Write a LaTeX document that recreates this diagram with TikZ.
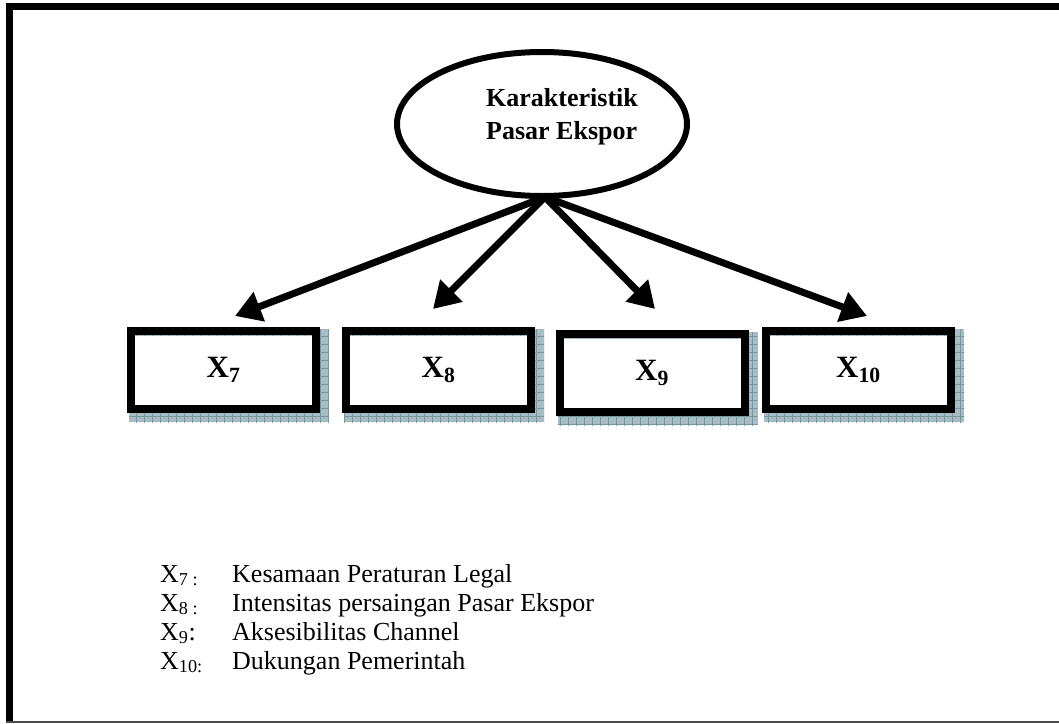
\documentclass[tikz,border=0pt]{standalone}
\usepackage{fontspec}
\setmainfont{Liberation Serif}
\usetikzlibrary{arrows.meta,backgrounds,shapes.geometric,calc}
\definecolor{shadeface}{RGB}{168,188,196}
\definecolor{shadeline}{RGB}{120,150,160}
\begin{document}
\begin{tikzpicture}[x=1pt,y=-1pt,
  latent/.style={ellipse, draw, line width=6pt, minimum width=290pt,
    minimum height=144pt, inner sep=0pt},
  heading/.style={align=left, inner sep=0pt,
    font=\fontsize{26}{33}\selectfont\bfseries},
  xbox/.style={draw, line width=8pt, minimum width=185pt,
    minimum height=78pt, inner sep=0pt,
    font=\fontsize{31}{32}\selectfont\bfseries},
  link/.style={line width=7pt, -{Triangle[length=26pt,width=30pt]}},
  legend/.style={anchor=base west, inner sep=0pt,
    font=\fontsize{26}{30}\selectfont},
  shadecol/.style={fill=shadeface},
  shadegrid/.style={draw=shadeline, line width=0.6pt},
]
\useasboundingbox (0,0) rectangle (1059,723);

% outer frame
\draw[line width=7pt] (9.5,723) -- (9.5,6.5) -- (1065,6.5);
\draw[line width=1.5pt, black!70] (6,722) -- (1065,722);

% construct
\node[latent] (ell) at (542,124) {};
\node[heading] (lbl) at (562,117) {Karakteristik\\Pasar Ekspor};

% indicator boxes
\node[xbox] (b7)  at (223.5,370) {\raisebox{-3pt}{X$_{\mathbf{7}}$}};
\node[xbox] (b8)  at (438.5,370) {\raisebox{-1pt}{X$_{\mathbf{8}}$}};
\node[xbox] (b9)  at (652,373)   {\raisebox{-3pt}{X$_{\mathbf{9}}$}};
\node[xbox] (b10) at (858.5,370) {\raisebox{-1pt}{X$_{\mathbf{10}}$}};

% shaded drop shadows behind each box
\newcommand\boxshade[1]{%
  \fill[shadecol] ($(#1.north west)+(2,2)$) rectangle ($(#1.south east)+(9,9)$);
  \begin{scope}
    \clip ($(#1.north west)+(2,2)$) rectangle ($(#1.south east)+(9,9)$);
    \draw[shadegrid, step=8pt] ($(#1.north west)+(0,0)$) grid ($(#1.south east)+(12,12)$);
  \end{scope}
  \fill[white] ($(#1.north west)+(7,9)$) rectangle ($(#1.south east)+(-4,-4)$);
}
\begin{scope}[on background layer]
  \boxshade{b7}
  \boxshade{b8}
  \boxshade{b9}
  \boxshade{b10}
\end{scope}

% arrows from the construct
\coordinate (hub) at (545,197);
\coordinate (t7)  at (235,316);
\coordinate (t8)  at (433,309);
\coordinate (t9)  at (655,309);
\coordinate (t10) at (867,316);
\draw[link] (hub) -- (t7);
\draw[link] (hub) -- (t8);
\draw[link] (hub) -- (t9);
\draw[link] (hub) -- (t10);

% legend
\node[legend] (k7)  at (160,582) {X\textsubscript{7 :}};
\node[legend] (k8)  at (160,611) {X\textsubscript{8 :}};
\node[legend] (k9)  at (160,640) {X\textsubscript{9}:};
\node[legend] (k10) at (160,669) {X\textsubscript{10:}};
\node[legend] (d7)  at (232,582) {Kesamaan Peraturan Legal};
\node[legend] (d8)  at (232,611) {Intensitas persaingan Pasar Ekspor};
\node[legend] (d9)  at (232,640) {Aksesibilitas Channel};
\node[legend] (d10) at (232,669) {Dukungan Pemerintah};
\end{tikzpicture}
\end{document}
